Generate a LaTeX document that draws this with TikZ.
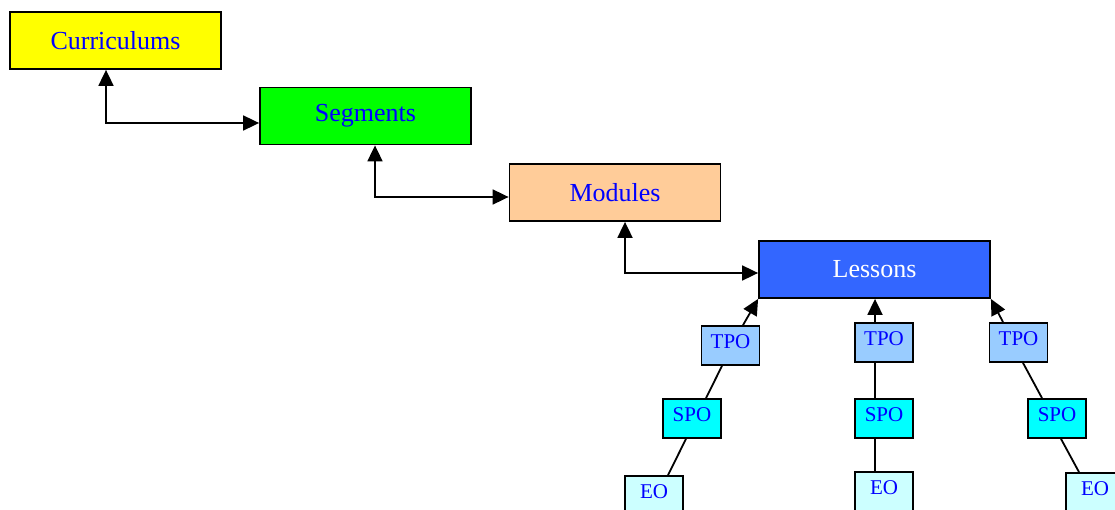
\documentclass[tikz,border=0pt]{standalone}
\usepackage{fontspec}
\setmainfont{Liberation Serif}
\usetikzlibrary{arrows.meta}
\definecolor{cyel}{HTML}{FFFF00}
\definecolor{cgrn}{HTML}{00FF00}
\definecolor{corg}{HTML}{FFCC99}
\definecolor{cblu}{HTML}{3366FF}
\definecolor{ctpo}{HTML}{99CCFF}
\definecolor{cspo}{HTML}{00FFFF}
\definecolor{ceo}{HTML}{CCFFFF}
\definecolor{ctxt}{HTML}{0000FF}
\tikzset{
  bigbox/.style={draw=black, line width=1.8pt, minimum width=211pt, minimum height=57pt, inner sep=0pt, text=ctxt, font=\fontsize{26}{28}\selectfont},
  smallbox/.style={draw=black, line width=1.8pt, minimum width=58pt, minimum height=39pt, inner sep=0pt, text depth=8pt, text=ctxt, font=\fontsize{21}{22}\selectfont},
  conn/.style={line width=1.8pt, draw=black},
  tip/.tip={Triangle[length=16pt,width=15pt]}
}
\begin{document}
\begin{tikzpicture}[x=1pt,y=-1pt]
\clip (0,0) rectangle (1115,510);
\fill[white] (0,0) rectangle (1115,510);
% big boxes
\node[bigbox, fill=cyel] (cur) at (115.5,40.5) {Curriculums};
\node[bigbox, fill=cgrn] (seg) at (365.5,116) {Segments};
\node[bigbox, fill=corg] (mod) at (615,192.5) {Modules};
\node[bigbox, fill=cblu, text=white, minimum width=231pt] (les) at (874.5,269.5) {Lessons};
% small boxes
\node[smallbox, fill=ctpo] (tpo1) at (730.5,345.5) {TPO};
\node[smallbox, fill=cspo] (spo1) at (692,418.5) {SPO};
\node[smallbox, fill=ceo]  (eo1)  at (654,495.5) {EO};
\node[smallbox, fill=ctpo] (tpo2) at (884,342.5) {TPO};
\node[smallbox, fill=cspo] (spo2) at (884,418.5) {SPO};
\node[smallbox, fill=ceo]  (eo2)  at (884,491.5) {EO};
\node[smallbox, fill=ctpo] (tpo3) at (1018.5,342.5) {TPO};
\node[smallbox, fill=cspo] (spo3) at (1057,418.5) {SPO};
\node[smallbox, fill=ceo]  (eo3)  at (1095,492.5) {EO};
% elbow connectors
\draw[conn, {tip}-{tip}] ([xshift=-9.5pt]cur.south) |- ([yshift=-7pt]seg.west);
\draw[conn, {tip}-{tip}] ([xshift=9.5pt]seg.south) |- ([yshift=-4.5pt]mod.west);
\draw[conn, {tip}-{tip}] ([xshift=10pt]mod.south) |- ([yshift=-3.5pt]les.west);
% left chain
\draw[conn, -{tip}] ([xshift=12.5pt]tpo1.north) -- (les.south west);
\draw[conn] ([xshift=14pt]spo1.north) -- ([xshift=-8.5pt]tpo1.south);
\draw[conn] ([xshift=14pt]eo1.north) -- ([xshift=-6pt]spo1.south);
% middle chain
\draw[conn, -{tip}] ([xshift=-9pt]tpo2.north) -- ([xshift=-9pt]tpo2.north |- les.south);
\draw[conn] ([xshift=-9pt]tpo2.south) -- ([xshift=-9pt]spo2.north);
\draw[conn] ([xshift=-9pt]spo2.south) -- ([xshift=-9pt]eo2.north);
% right chain
\draw[conn, -{tip}] ([xshift=-15.5pt]tpo3.north) -- (les.south east);
\draw[conn] ([xshift=4.5pt]tpo3.south) -- ([xshift=-15pt]spo3.north);
\draw[conn] ([xshift=4pt]spo3.south) -- ([xshift=-16pt]eo3.north);
\end{tikzpicture}
\end{document}
